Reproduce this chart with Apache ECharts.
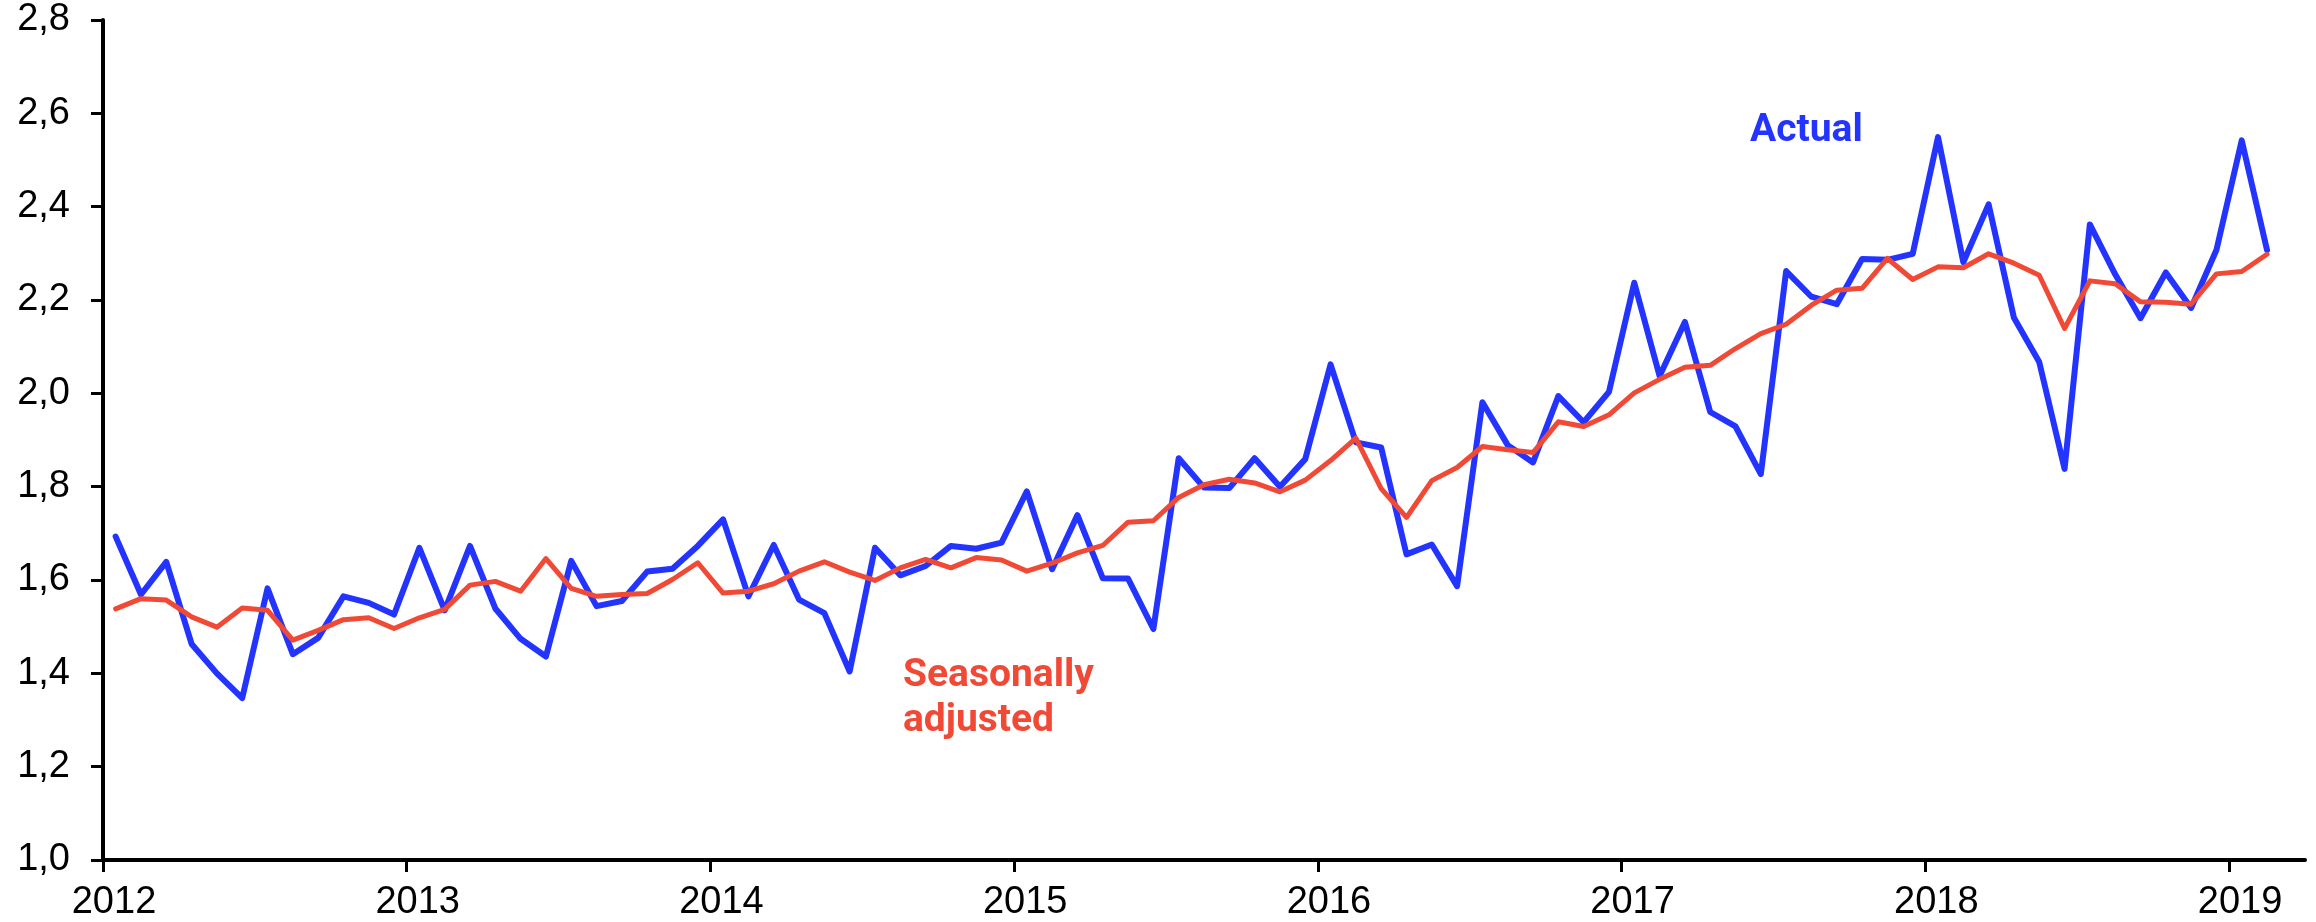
<!DOCTYPE html>
<html>
<head>
<meta charset="utf-8">
<title>Actual vs seasonally adjusted</title>
<script src="https://cdn.jsdelivr.net/npm/echarts@6/dist/echarts.min.js"></script>
<style>
  html, body { margin: 0; padding: 0; background: #fff; }
  #chart { width: 2316px; height: 922px; }
</style>
</head>
<body>
<div id="chart"></div>
<script>
// monthly values, Jan 2012 .. Feb 2019
var startYear = 2012;
var yearTicks = [2012, 2013, 2014, 2015, 2016, 2017, 2018, 2019];

var actual = [
    1.693, 1.569, 1.639, 1.463, 1.400, 1.347, 1.582, 1.441, 1.476, 1.565, 1.551, 1.526,
    1.669, 1.535, 1.673, 1.539, 1.474, 1.436, 1.641, 1.544, 1.555, 1.618, 1.624, 1.673,
    1.730, 1.565, 1.675, 1.558, 1.529, 1.404, 1.669, 1.610, 1.630, 1.673, 1.667, 1.680,
    1.790, 1.623, 1.739, 1.604, 1.603, 1.495, 1.861, 1.798, 1.797, 1.861, 1.800, 1.859,
    2.062, 1.895, 1.884, 1.655, 1.676, 1.587, 1.981, 1.889, 1.852, 1.994, 1.938, 2.003,
    2.237, 2.037, 2.153, 1.960, 1.929, 1.827, 2.262, 2.207, 2.191, 2.288, 2.286, 2.299,
    2.549, 2.281, 2.405, 2.162, 2.067, 1.838, 2.362, 2.255, 2.161, 2.259, 2.183, 2.307,
    2.542, 2.307
];

var adjusted = [
    1.538, 1.560, 1.557, 1.521, 1.499, 1.540, 1.535, 1.471, 1.492, 1.515, 1.519, 1.496,
    1.519, 1.537, 1.589, 1.597, 1.576, 1.646, 1.582, 1.565, 1.569, 1.571, 1.601, 1.637,
    1.572, 1.576, 1.592, 1.619, 1.639, 1.617, 1.599, 1.626, 1.644, 1.626, 1.648, 1.643,
    1.619, 1.636, 1.658, 1.674, 1.724, 1.727, 1.777, 1.804, 1.816, 1.808, 1.789, 1.814,
    1.856, 1.904, 1.796, 1.734, 1.813, 1.841, 1.886, 1.879, 1.873, 1.939, 1.929, 1.954,
    2.001, 2.030, 2.056, 2.060, 2.096, 2.128, 2.148, 2.189, 2.221, 2.225, 2.289, 2.244,
    2.271, 2.269, 2.299, 2.279, 2.253, 2.139, 2.241, 2.235, 2.196, 2.195, 2.191, 2.256,
    2.261, 2.298
];

var blue = '#2334ff',
    red = '#f04a37',
    axisFont = '"Liberation Sans", Arial, Helvetica, sans-serif',
    noteFont = 'Roboto, "Noto Sans", sans-serif';

// points sit in the middle of their month
function toPoints(values) {
    return values.map(function (v, i) {
        return [i + 0.5, v];
    });
}

var tickMonths = yearTicks.map(function (y) {
    return (y - startYear) * 12;
});

var chart = echarts.init(document.getElementById('chart'), null, { renderer: 'canvas' });

chart.setOption({
    animation: false,
    backgroundColor: '#fff',
    grid: {
        left: 103,
        right: 11,
        top: 20,
        bottom: 62,
        containLabel: false
    },
    xAxis: {
        type: 'value',
        min: 0,
        max: 87,
        interval: 12,
        splitLine: { show: false },
        axisLine: {
            onZero: false,
            lineStyle: { color: '#000', width: 4 }
        },
        axisTick: {
            customValues: tickMonths,
            length: 12,
            lineStyle: { color: '#000', width: 3 }
        },
        axisLabel: {
            customValues: tickMonths,
            margin: 24,
            color: '#000',
            fontFamily: axisFont,
            fontSize: 38,
            padding: [0, 0, 0, 22],
            formatter: function (v) {
                return String(startYear + Math.round(v / 12));
            }
        }
    },
    yAxis: {
        type: 'value',
        min: 1.0,
        max: 2.8,
        interval: 0.2,
        splitLine: { show: false },
        axisLine: {
            show: true,
            lineStyle: { color: '#000', width: 4 }
        },
        axisTick: {
            show: true,
            length: 12,
            lineStyle: { color: '#000', width: 3 }
        },
        axisLabel: {
            margin: 33,
            color: '#000',
            fontFamily: axisFont,
            fontSize: 38,
            formatter: function (v) {
                return v.toFixed(1).replace('.', ',');
            }
        }
    },
    series: [{
        name: 'Actual',
        type: 'line',
        data: toPoints(actual),
        showSymbol: false,
        lineStyle: { color: blue, width: 6, join: 'round', cap: 'round' },
        itemStyle: { color: blue }
    }, {
        name: 'Seasonally adjusted',
        type: 'line',
        data: toPoints(adjusted),
        showSymbol: false,
        lineStyle: { color: red, width: 5, join: 'round', cap: 'round' },
        itemStyle: { color: red }
    }],
    // direct labels instead of a legend
    graphic: [{
        type: 'text',
        x: 1750,
        y: 131,
        style: {
            text: 'Actual',
            fill: blue,
            font: 'bold 39px ' + noteFont,
            verticalAlign: 'middle'
        }
    }, {
        type: 'text',
        x: 903,
        y: 676,
        style: {
            text: 'Seasonally',
            fill: red,
            font: 'bold 39px ' + noteFont,
            verticalAlign: 'middle'
        }
    }, {
        type: 'text',
        x: 903,
        y: 721,
        style: {
            text: 'adjusted',
            fill: red,
            font: 'bold 39px ' + noteFont,
            verticalAlign: 'middle'
        }
    }]
});
</script>
</body>
</html>
